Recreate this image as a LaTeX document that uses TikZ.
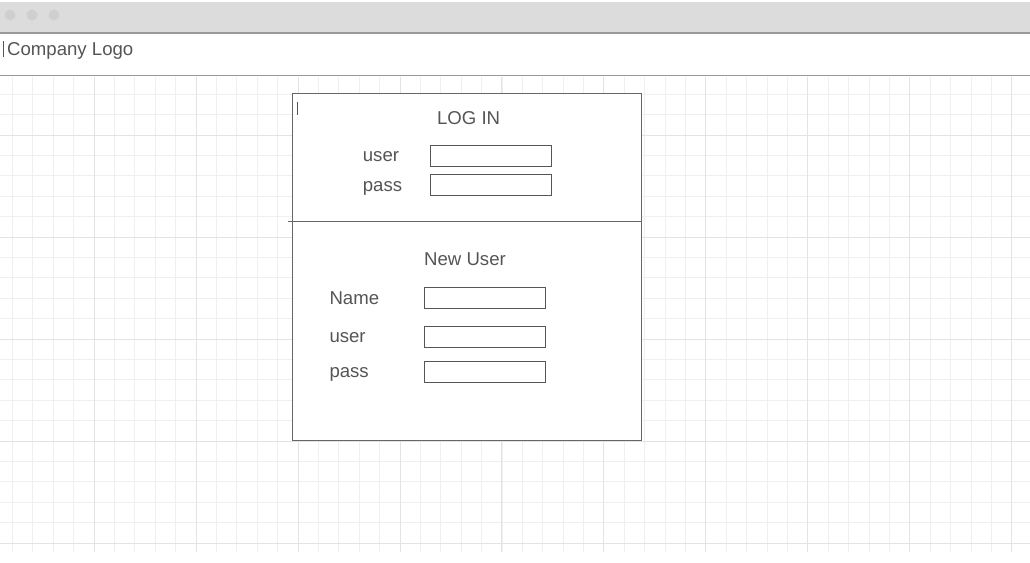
\documentclass[tikz,border=0pt]{standalone}
\usepackage{fontspec}
\setmainfont{Liberation Sans}
\usepackage{tikz}
\usepackage{xcolor}
\usetikzlibrary{positioning}
\definecolor{barfill}{HTML}{DCDCDC}
\definecolor{bardot}{HTML}{CFCFCF}
\definecolor{rulegray}{HTML}{999999}
\definecolor{minorgrid}{HTML}{EFEFEF}
\definecolor{majorgrid}{HTML}{E3E3E3}
\definecolor{inkgray}{HTML}{555555}
\definecolor{framegray}{HTML}{666666}

\begin{document}
\begin{tikzpicture}[x=1pt,y=-1pt,
    txt/.style={text=inkgray, font=\fontsize{18.6}{20}\selectfont, inner sep=0pt, anchor=base west},
    field/.style={draw=inkgray, line width=0.9pt, fill=white, minimum width=121pt, minimum height=21pt, inner sep=0pt},
    cursor/.style={draw=inkgray, line width=0.9pt}]
    \useasboundingbox (0,0) rectangle (1030,562);
    \fill[white] (0,0) rectangle (1030,562);
    %% 窗口标题栏
    \fill[barfill] (0,2) rectangle (1030,33);
    \foreach \dx in {10,32,54}{
        \fill[bardot] (\dx,15) circle (5.5);
    };
    \draw[rulegray, line width=1.5pt] (0,33) -- (1030,33);
    %% 页眉
    \draw[cursor] (3,41) -- (3,57);
    \node[txt] (logo) at (7,55) {Company Logo};
    \draw[rulegray, line width=1.5pt] (0,75.5) -- (1030,75.5);
    %% 网格: 细线, 每五格一条粗线
    \foreach \k in {0,...,50}{
        \draw[minorgrid, line width=0.8pt] ({12.44+\k*20.394},76.5) -- ({12.44+\k*20.394},552);
    };
    \foreach \k in {0,...,22}{
        \draw[minorgrid, line width=0.8pt] (0,{94.2+\k*20.4}) -- (1030,{94.2+\k*20.4});
    };
    \foreach \k in {0,...,9}{
        \draw[majorgrid, line width=0.8pt] ({94+\k*101.97},76.5) -- ({94+\k*101.97},552);
    };
    \foreach \k in {0,...,4}{
        \draw[majorgrid, line width=0.8pt] (0,{135+\k*102}) -- (1030,{135+\k*102});
    };
    %% 登录面板
    \draw[framegray, fill=white, line width=1pt] (292.5,93.5) rectangle (641.3,440.3);
    \draw[cursor] (297.5,101.5) -- (297.5,115);
    \node[txt, anchor=base] (login) at (468.6,124) {LOG IN};
    \node[field] (userbox) at (491,155.5) {};
    \node[field] (passbox) at (491,184.8) {};
    \node[txt] (userlbl) at (362.7,161.7) {user};
    \node[txt] (passlbl) at (362.7,191) {pass};
    \coordinate (cutL) at (288,221.5);
    \coordinate (cutR) at (641.3,221.5);
    \draw[framegray, line width=1pt] (cutL) -- (cutR);
    %% 新用户
    \node[txt] (newuser) at (424,265.3) {New User};
    \node[field] (namebox) at (485,298.3) {};
    \node[field] (newuserbox) at (485,337) {};
    \node[field] (newpassbox) at (485,372) {};
    \node[txt] (namelbl) at (329.3,304) {Name};
    \node[txt] (newuserlbl) at (329.3,342.7) {user};
    \node[txt] (newpasslbl) at (329.3,377) {pass};
\end{tikzpicture}
\end{document}
